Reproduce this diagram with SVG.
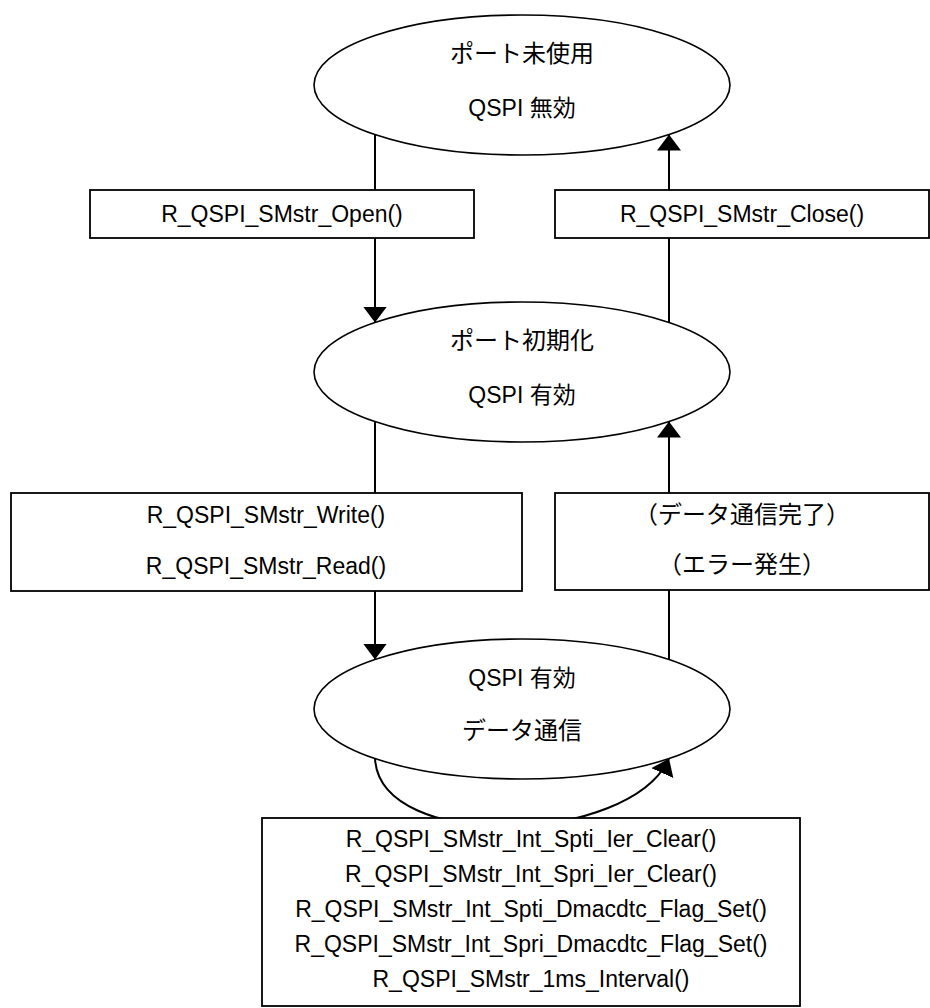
<svg xmlns="http://www.w3.org/2000/svg" width="930" height="1008" viewBox="0 0 930 1008">
<defs>
<style>
.st{fill:#fff;stroke:#000;stroke-width:1.6}
.bx{fill:#fff;stroke:#000;stroke-width:1.8}
.ln{fill:none;stroke:#000;stroke-width:2}
text{font-family:"Liberation Sans","Noto Sans CJK JP",sans-serif;font-size:23px;fill:#000;text-anchor:middle}
.jp{font-size:24px}
</style>
<marker id="ah" viewBox="0 0 16 24" refX="16" refY="12" markerWidth="16" markerHeight="24" markerUnits="userSpaceOnUse" orient="auto">
<path d="M0,0 L16,12 L0,24 z" fill="#000"/>
</marker>
</defs>
<rect width="930" height="1008" fill="#fff"/>
<g id="connectors">
<line class="ln" x1="375" y1="134.5" x2="375" y2="190"/>
<line class="ln" x1="375" y1="238" x2="375" y2="322.5" marker-end="url(#ah)"/>
<line class="ln" x1="669" y1="322.5" x2="669" y2="238"/>
<line class="ln" x1="669" y1="190" x2="669" y2="134.5" marker-end="url(#ah)"/>
<line class="ln" x1="375" y1="421.5" x2="375" y2="493"/>
<line class="ln" x1="375" y1="591" x2="375" y2="659.5" marker-end="url(#ah)"/>
<line class="ln" x1="669" y1="659.5" x2="669" y2="590"/>
<line class="ln" x1="669" y1="493" x2="669" y2="421.5" marker-end="url(#ah)"/>
<path class="ln" d="M375,758.5 C380,853 630,845 669,758.5" marker-end="url(#ah)"/>
</g>
<g id="state-unused">
<ellipse class="st" cx="522" cy="85" rx="208" ry="70"/>
<text class="jp" x="522" y="62">ポート未使用</text>
<text x="522" y="116">QSPI 無効</text>
</g>
<g id="open">
<rect class="bx" x="90" y="190" width="384" height="48"/>
<text x="282" y="222">R_QSPI_SMstr_Open()</text>
</g>
<g id="close">
<rect class="bx" x="555" y="190" width="374" height="48"/>
<text x="742" y="222">R_QSPI_SMstr_Close()</text>
</g>
<g id="state-init">
<ellipse class="st" cx="522" cy="372" rx="208" ry="70"/>
<text class="jp" x="522" y="349">ポート初期化</text>
<text x="522" y="403">QSPI 有効</text>
</g>
<g id="write-read">
<rect class="bx" x="11" y="493" width="511" height="98"/>
<text x="266" y="523">R_QSPI_SMstr_Write()</text>
<text x="266" y="574">R_QSPI_SMstr_Read()</text>
</g>
<g id="complete">
<rect class="bx" x="555" y="493" width="374" height="97"/>
<text class="jp" x="742" y="523">（データ通信完了）</text>
<text class="jp" x="742" y="573">（エラー発生）</text>
</g>
<g id="state-comm">
<ellipse class="st" cx="522" cy="709" rx="208" ry="70"/>
<text x="522" y="686">QSPI 有効</text>
<text class="jp" x="522" y="739">データ通信</text>
</g>
<g id="interrupts">
<rect class="bx" x="262" y="818" width="538" height="188"/>
<text x="531" y="847">R_QSPI_SMstr_Int_Spti_Ier_Clear()</text>
<text x="531" y="882">R_QSPI_SMstr_Int_Spri_Ier_Clear()</text>
<text x="531" y="917">R_QSPI_SMstr_Int_Spti_Dmacdtc_Flag_Set()</text>
<text x="531" y="952">R_QSPI_SMstr_Int_Spri_Dmacdtc_Flag_Set()</text>
<text x="531" y="987">R_QSPI_SMstr_1ms_Interval()</text>
</g>
</svg>
